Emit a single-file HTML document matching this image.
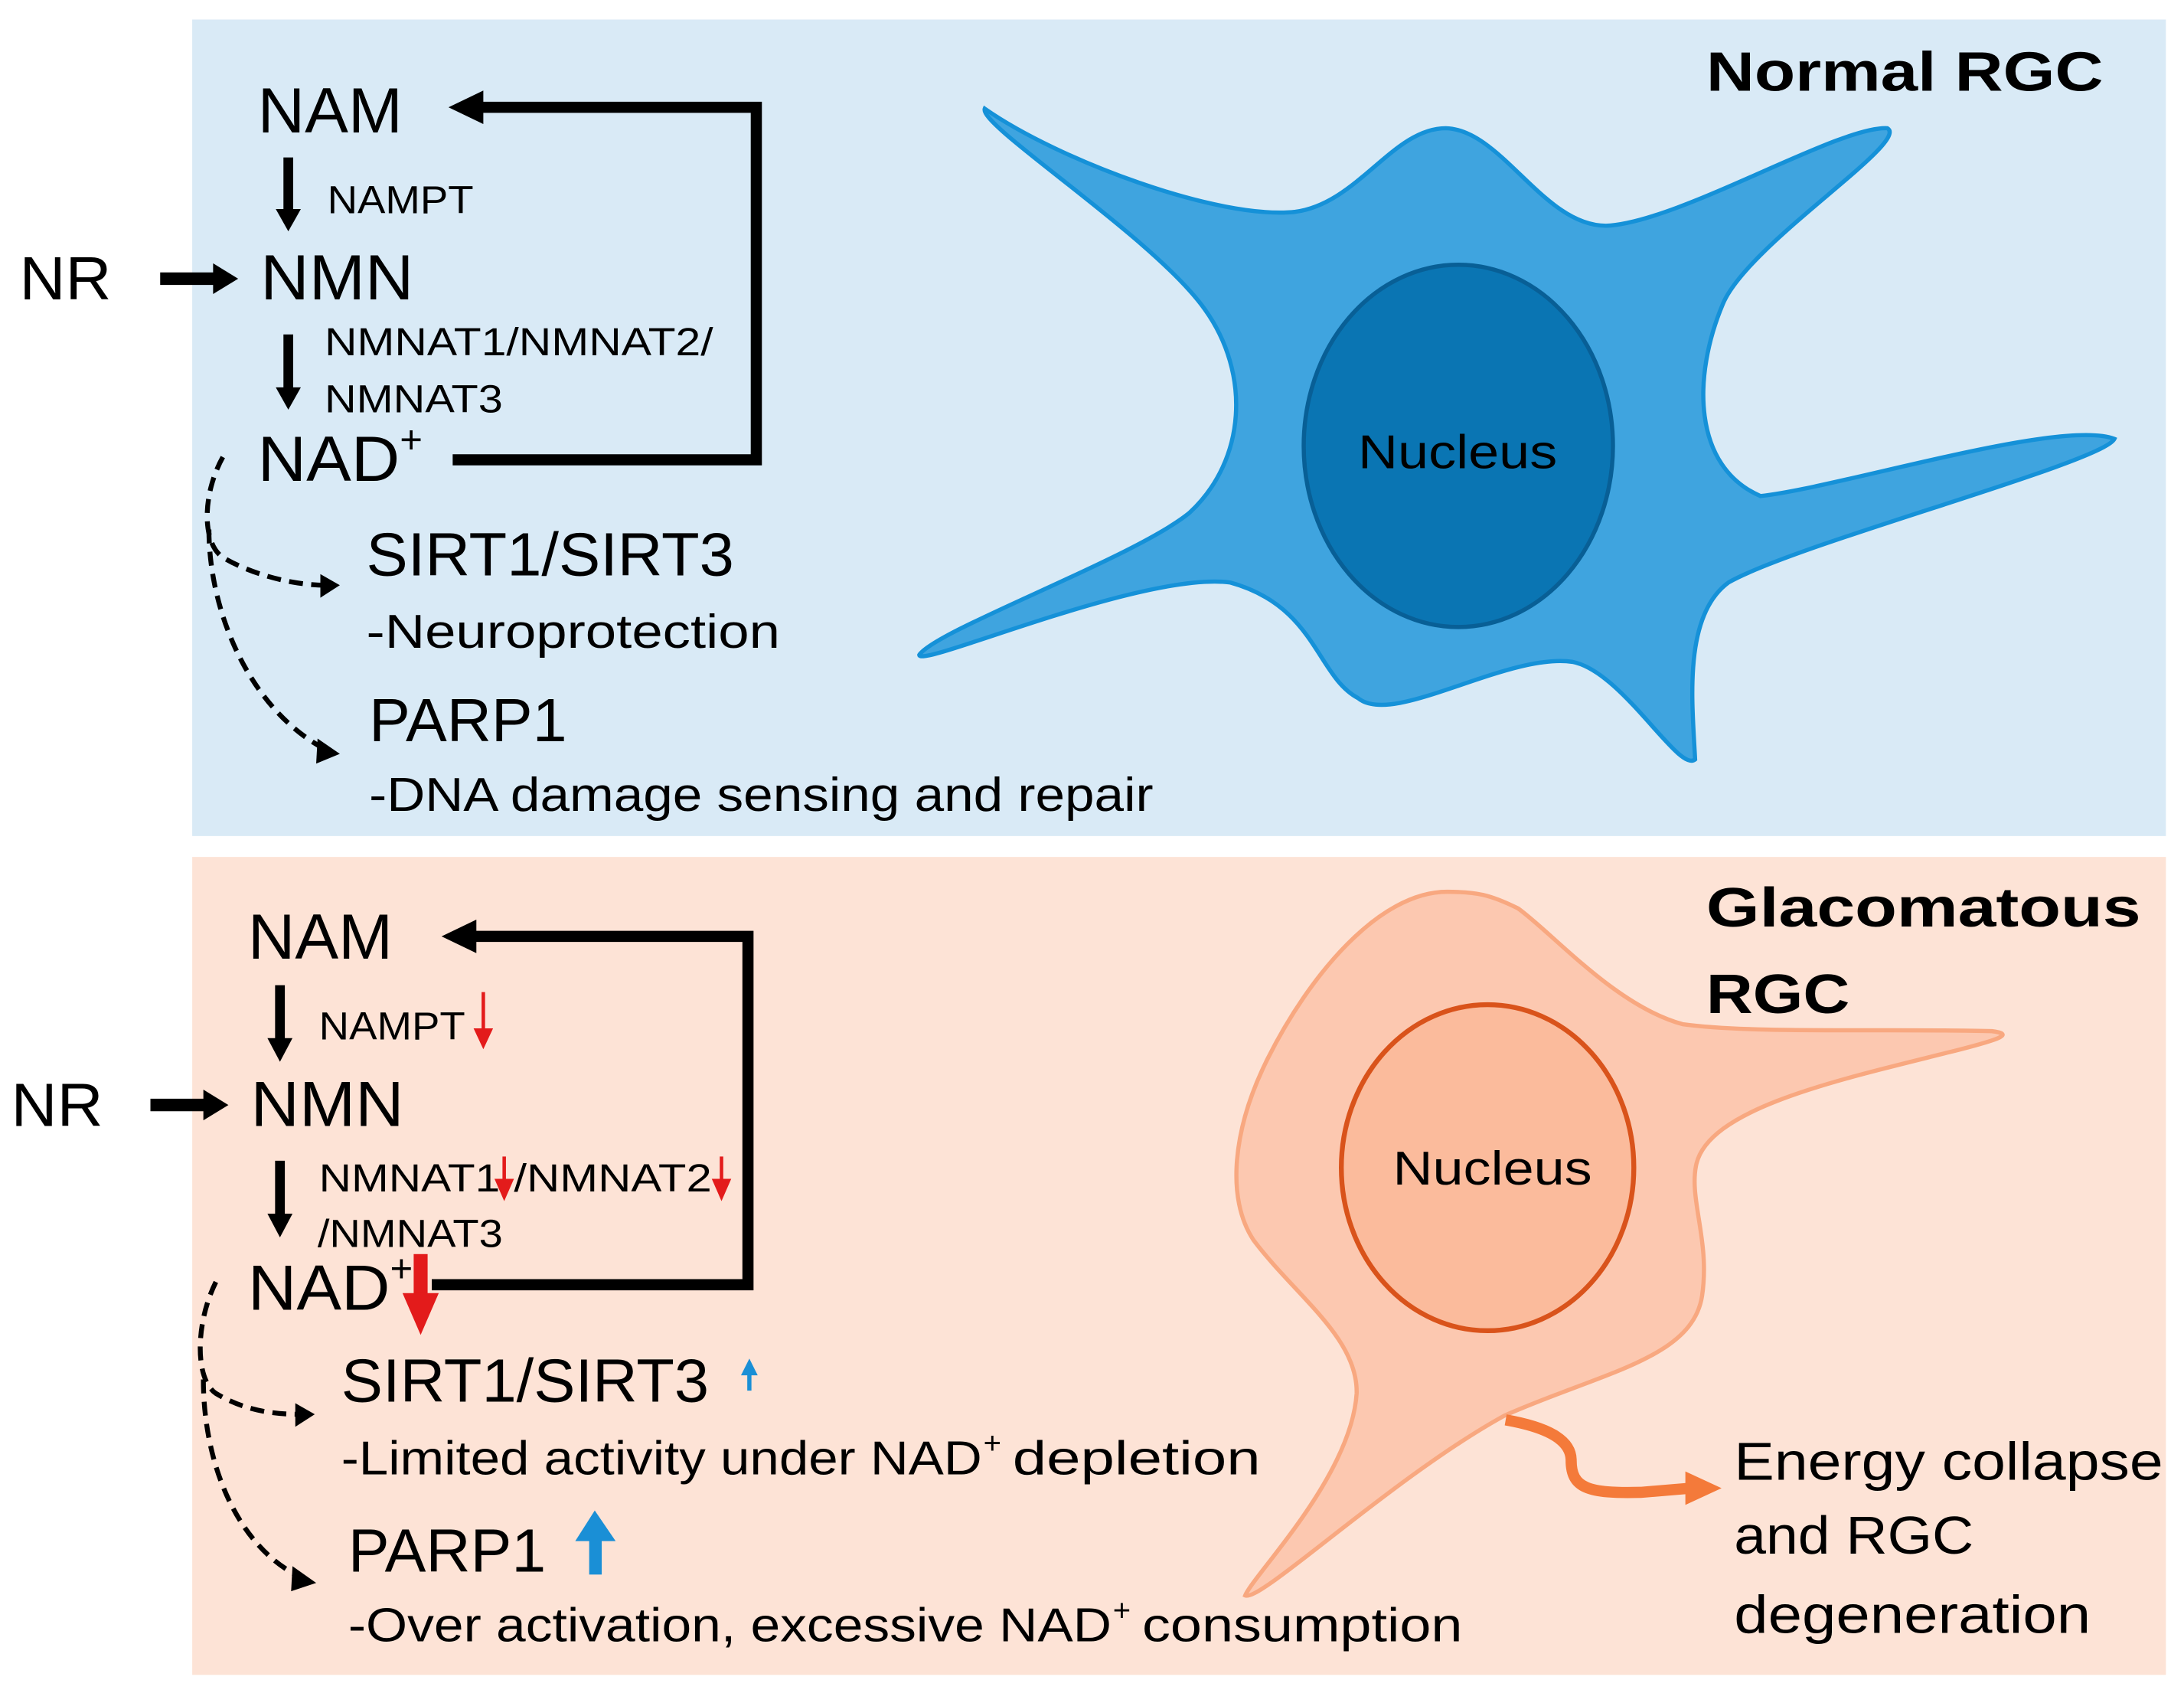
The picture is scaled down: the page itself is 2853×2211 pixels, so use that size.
<!DOCTYPE html>
<html><head><meta charset="utf-8"><style>
html,body{margin:0;padding:0;background:#fff;}
svg{display:block;}
text{font-family:"Liberation Sans","DejaVu Sans",sans-serif;fill:#000;}
</style></head><body>
<svg width="2853" height="2211" viewBox="0 0 1568 1215" preserveAspectRatio="none" xmlns="http://www.w3.org/2000/svg">
<rect x="0" y="0" width="1568" height="1215" fill="#fff"/>
<rect x="138" y="14" width="1417" height="586" fill="#d9eaf6"/>
<rect x="138" y="615" width="1417" height="587" fill="#fde3d6"/>

<!-- Normal cell -->
<path d="M707,78 C760,115 875,158 930,152 C975,146 1000,92 1038,92 C1078,93 1108,162 1153,162 C1205,160 1320,90 1355,92 C1372,102 1255,175 1237,218 C1215,270 1215,335 1264,356 C1320,350 1480,300 1518,315 C1510,332 1290,390 1241,418 C1208,442 1215,505 1217,545 C1205,555 1165,482 1129,475 C1082,468 1000,522 975,501 C945,485 945,435 883,418 C820,410 660,480 660,470 C672,452 815,400 854,368 C895,330 898,268 865,222 C828,170 702,90 707,78 Z" fill="#3fa4df" stroke="#1591d8" stroke-width="3"/>
<ellipse cx="1047" cy="320" rx="111" ry="130" fill="#0a75b3" stroke="#085f96" stroke-width="3"/>
<text x="975" y="336" font-size="34" textLength="143" lengthAdjust="spacingAndGlyphs">Nucleus</text>
<text x="1225" y="65" font-size="40" font-weight="bold" textLength="285" lengthAdjust="spacingAndGlyphs">Normal RGC</text>

<!-- Top pathway -->
<text x="185" y="95" font-size="46" textLength="104" lengthAdjust="spacingAndGlyphs">NAM</text>
<text x="235" y="153" font-size="28" textLength="105" lengthAdjust="spacingAndGlyphs">NAMPT</text>
<text x="14" y="215" font-size="44" textLength="66" lengthAdjust="spacingAndGlyphs">NR</text>
<text x="187" y="215" font-size="46" textLength="110" lengthAdjust="spacingAndGlyphs">NMN</text>
<text x="233" y="255" font-size="28" textLength="279" lengthAdjust="spacingAndGlyphs">NMNAT1/NMNAT2/</text>
<text x="233" y="296" font-size="28" textLength="128" lengthAdjust="spacingAndGlyphs">NMNAT3</text>
<text x="185" y="345" font-size="46" textLength="102" lengthAdjust="spacingAndGlyphs">NAD</text>
<text x="287" y="325" font-size="28">+</text>
<text x="263" y="413" font-size="44" textLength="264" lengthAdjust="spacingAndGlyphs">SIRT1/SIRT3</text>
<text x="263" y="465" font-size="34" textLength="297" lengthAdjust="spacingAndGlyphs">-Neuroprotection</text>
<text x="265" y="532" font-size="44" textLength="142" lengthAdjust="spacingAndGlyphs">PARP1</text>
<text x="265" y="582" font-size="34" textLength="563" lengthAdjust="spacingAndGlyphs">-DNA damage sensing and repair</text>

<line x1="207" y1="113" x2="207" y2="152" stroke="#000" stroke-width="7"/>
<path d="M198,150 L216,150 L207,166 Z"/>
<line x1="207" y1="240" x2="207" y2="280" stroke="#000" stroke-width="7"/>
<path d="M198,278 L216,278 L207,294 Z"/>
<line x1="115" y1="200" x2="155" y2="200" stroke="#000" stroke-width="9"/>
<path d="M153,189 L171,200 L153,211 Z"/>
<polyline points="325,330 543,330 543,77 345,77" fill="none" stroke="#000" stroke-width="8"/>
<path d="M347,65 L322,77 L347,89 Z"/>
<path d="M160,328 C145,355 145,390 160,400 C180,412 210,420 234,420" fill="none" stroke="#000" stroke-width="3.5" stroke-dasharray="10,6"/>
<path d="M230,412 L244,420 L230,429 Z"/>
<path d="M150,380 C150,440 180,510 234,538" fill="none" stroke="#000" stroke-width="3.5" stroke-dasharray="10,6"/>
<path d="M228,530 L244,541 L227,548 Z"/>

<!-- Glaucoma cell -->
<path d="M1039,640 C990,640 940,700 910,760 C885,810 880,860 900,890 C930,930 975,960 974,1000 C970,1060 900,1130 894,1145 C905,1150 1000,1060 1080,1016 C1150,985 1215,975 1222,930 C1228,890 1212,860 1218,835 C1228,795 1320,775 1400,755 C1440,745 1445,742 1430,740 C1350,738 1260,742 1208,735 C1160,722 1115,670 1090,652 C1070,642 1060,640 1039,640 Z" fill="#fcc8b0" stroke="#f8a880" stroke-width="3"/>
<ellipse cx="1068" cy="838" rx="105" ry="117" fill="#fbbb9c" stroke="#d9531b" stroke-width="3.5"/>
<text x="1000" y="850" font-size="34" textLength="143" lengthAdjust="spacingAndGlyphs">Nucleus</text>
<text x="1225" y="665" font-size="40" font-weight="bold" textLength="312" lengthAdjust="spacingAndGlyphs">Glacomatous</text>
<text x="1225" y="727" font-size="40" font-weight="bold" textLength="103" lengthAdjust="spacingAndGlyphs">RGC</text>
<path d="M1081,1019 C1115,1025 1128,1035 1128,1048 C1128,1068 1140,1072 1178,1071 L1214,1068" fill="none" stroke="#f47a3a" stroke-width="8"/>
<path d="M1210,1056 L1236,1068 L1210,1080 Z" fill="#f47a3a"/>
<text x="1245" y="1062" font-size="38" textLength="308" lengthAdjust="spacingAndGlyphs">Energy collapse</text>
<text x="1245" y="1115" font-size="38" textLength="172" lengthAdjust="spacingAndGlyphs">and RGC</text>
<text x="1245" y="1172" font-size="38" textLength="256" lengthAdjust="spacingAndGlyphs">degeneration</text>

<!-- Bottom pathway -->
<text x="178" y="688" font-size="46" textLength="104" lengthAdjust="spacingAndGlyphs">NAM</text>
<text x="229" y="746" font-size="28" textLength="105" lengthAdjust="spacingAndGlyphs">NAMPT</text>
<text x="8" y="808" font-size="44" textLength="66" lengthAdjust="spacingAndGlyphs">NR</text>
<text x="180" y="808" font-size="46" textLength="110" lengthAdjust="spacingAndGlyphs">NMN</text>
<text x="229" y="855" font-size="28" textLength="130" lengthAdjust="spacingAndGlyphs">NMNAT1</text>
<text x="369" y="855" font-size="28" textLength="142" lengthAdjust="spacingAndGlyphs">/NMNAT2</text>
<text x="228" y="895" font-size="28" textLength="133" lengthAdjust="spacingAndGlyphs">/NMNAT3</text>
<text x="178" y="940" font-size="46" textLength="102" lengthAdjust="spacingAndGlyphs">NAD</text>
<text x="280" y="920" font-size="28">+</text>
<text x="245" y="1006" font-size="44" textLength="264" lengthAdjust="spacingAndGlyphs">SIRT1/SIRT3</text>
<text x="245" y="1058" font-size="34" textLength="460" lengthAdjust="spacingAndGlyphs">-Limited activity under NAD</text>
<text x="706" y="1043" font-size="22">+</text>
<text x="727" y="1058" font-size="34" textLength="178" lengthAdjust="spacingAndGlyphs">depletion</text>
<text x="250" y="1128" font-size="44" textLength="142" lengthAdjust="spacingAndGlyphs">PARP1</text>
<text x="250" y="1178" font-size="34" textLength="548" lengthAdjust="spacingAndGlyphs">-Over activation, excessive NAD</text>
<text x="799" y="1163" font-size="22">+</text>
<text x="820" y="1178" font-size="34" textLength="230" lengthAdjust="spacingAndGlyphs">consumption</text>

<line x1="201" y1="707" x2="201" y2="748" stroke="#000" stroke-width="7"/>
<path d="M192,745 L210,745 L201,762 Z"/>
<line x1="201" y1="833" x2="201" y2="874" stroke="#000" stroke-width="7"/>
<path d="M192,871 L210,871 L201,888 Z"/>
<line x1="108" y1="793" x2="148" y2="793" stroke="#000" stroke-width="9"/>
<path d="M146,782 L164,793 L146,804 Z"/>
<polyline points="310,922 537,922 537,672 340,672" fill="none" stroke="#000" stroke-width="8"/>
<path d="M342,660 L317,672 L342,684 Z"/>
<path d="M155,920 C140,950 140,990 155,1000 C175,1012 195,1015 216,1015" fill="none" stroke="#000" stroke-width="3.5" stroke-dasharray="10,6"/>
<path d="M212,1007 L226,1015 L212,1024 Z"/>
<path d="M146,990 C146,1050 170,1110 216,1132" fill="none" stroke="#000" stroke-width="3.5" stroke-dasharray="10,6"/>
<path d="M210,1124 L227,1136 L209,1142 Z"/>

<!-- red / blue indicators -->
<line x1="347" y1="712" x2="347" y2="742" stroke="#e31b1b" stroke-width="2.5"/>
<path d="M340,738 L354,738 L347,753 Z" fill="#e31b1b"/>
<line x1="362" y1="830" x2="362" y2="850" stroke="#e31b1b" stroke-width="2.5"/>
<path d="M355,846 L369,846 L362,862 Z" fill="#e31b1b"/>
<line x1="518" y1="830" x2="518" y2="850" stroke="#e31b1b" stroke-width="2.5"/>
<path d="M511,846 L525,846 L518,862 Z" fill="#e31b1b"/>
<rect x="297" y="900" width="10" height="30" fill="#e31b1b"/>
<path d="M289,928 L315,928 L302,958 Z" fill="#e31b1b"/>
<line x1="538" y1="985" x2="538" y2="998" stroke="#1a8fd6" stroke-width="3"/>
<path d="M532,987 L544,987 L538,975 Z" fill="#1a8fd6"/>
<rect x="423" y="1104" width="9" height="26" fill="#1a8fd6"/>
<path d="M413,1106 L442,1106 L427,1084 Z" fill="#1a8fd6"/>
</svg>
</body></html>
